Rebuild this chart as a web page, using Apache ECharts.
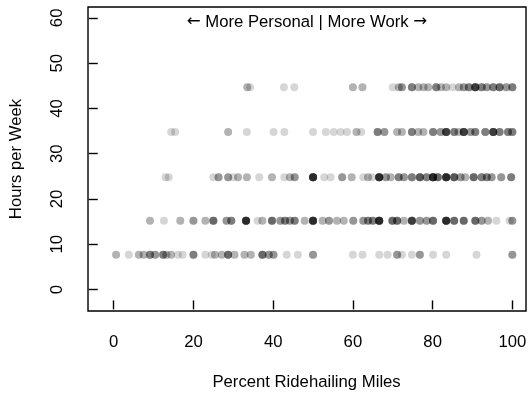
<!DOCTYPE html>
<html>
<head>
<meta charset="utf-8">
<script src="https://cdn.jsdelivr.net/npm/echarts@6/dist/echarts.min.js"></script>
<style>html,body{margin:0;padding:0;background:#fff}#c{width:529px;height:396px}</style>
</head>
<body>
<div id="c"></div>
<script>
// Hours-per-week levels (y) and, per level, [percent ridehailing miles, number of overlapping points]
const yLevels = [7.7, 15.2, 24.8, 34.8, 44.7];
const row1 = [[0.6,2],[3.8,1],[6.3,2],[7.5,2],[9.1,4],[10.4,3],[12.4,4],[13.2,2],[14.4,2],[16.1,1],[17.3,1],[20,4],[23,1],[24.6,1],[25.4,2],[27.1,2],[28.7,5],[30.3,2],[32.8,2],[34.4,2],[37.3,5],[38.9,3],[40.1,3],[43.4,1],[46.2,1],[50,3],[60,1],[62.4,1],[66.6,1],[68.7,1],[71.1,3],[72.3,1],[74.8,1],[76.8,3],[80.1,1],[83.4,1],[91,1],[100,3]];
const row2 = [[9.1,2],[12.6,1],[16.7,2],[20,3],[23,2],[25,5],[28.3,3],[29.5,4],[33.2,10],[36.1,1],[37.3,2],[39.7,5],[41.8,3],[43,4],[44.2,3],[45.4,4],[47.9,2],[50,10],[52.4,2],[54,3],[56,2],[57.7,2],[60.1,3],[62.6,3],[63.8,4],[65,4],[66.6,10],[69.9,5],[71.1,5],[72.8,2],[74.8,8],[76.8,3],[78.5,3],[80.1,5],[83.4,10],[85.4,5],[87.8,5],[90.7,5],[92.3,3],[93.9,2],[96,1],[99.3,1],[100,3]];
const row3 = [[13,1],[13.8,1],[25,1],[26.3,3],[28.7,3],[30,1],[31.2,2],[33.4,2],[36.5,1],[39.7,2],[42.8,1],[44.2,2],[45.4,3],[50,10],[52.8,1],[54.4,1],[57.3,3],[59.7,2],[62.6,1],[63.8,2],[64.8,1],[66.6,10],[68.3,3],[69.5,2],[71.5,4],[72.8,3],[74.8,4],[76.8,6],[78.5,4],[80.1,10],[81.3,5],[83.4,10],[85.4,6],[87,3],[88.2,2],[90.3,5],[92.3,4],[93.6,4],[94.8,3],[97.2,3],[99.7,4]];
const row4 = [[14.4,1],[15.4,1],[28.7,2],[33.4,1],[40.1,1],[42.8,1],[50,1],[53.2,1],[55.2,1],[56.9,1],[58.5,1],[60.9,2],[62.1,1],[66.2,4],[67.9,3],[71.1,2],[72.3,2],[74.8,4],[76.4,2],[77.7,2],[80.1,4],[82,3],[83.4,8],[85.4,4],[86.5,2],[87.8,8],[89.5,3],[90.7,4],[93.2,4],[95.2,8],[96.8,4],[98.9,4],[100,4]];
const row5 = [[33.5,2],[34.2,1],[42.7,1],[45.3,1],[60,2],[62.4,2],[70,1],[71.5,2],[72.3,3],[74.8,4],[76.4,2],[77.7,2],[78.9,2],[80.9,4],[82.1,2],[83.4,2],[85,1],[86.6,2],[87.8,3],[89.1,4],[90.7,8],[92.3,4],[93.6,3],[95.2,4],[96.8,5],[98.5,3],[100,4]];
const xTicks = [0, 20, 40, 60, 80, 100];
const yTicks = [0, 10, 20, 30, 40, 50, 60];

// plot-box value ranges (as in R: data range padded by 4%)
const BOX_X = [-4, 103.2], BOX_Y = [-2.4, 62.4];
// Box pixel geometry and an outer drawing area that also holds the outward ticks
const BOX = {left: 88, right: 3, top: 7, bottom: 85};
const OUT = {left: 78, right: 3, top: 7, bottom: 74};
const W = 529, H = 396;
const pxPerX = (W - BOX.left - BOX.right) / (BOX_X[1] - BOX_X[0]);
const pxPerY = (H - BOX.top - BOX.bottom) / (BOX_Y[1] - BOX_Y[0]);
const OUT_X = [BOX_X[0] - (BOX.left - OUT.left) / pxPerX, BOX_X[1]];
const OUT_Y = [BOX_Y[0] - (BOX.bottom - OUT.bottom) / pxPerY, BOX_Y[1]];

const rows = [row1, row2, row3, row4, row5];
const points = [];
rows.forEach((r, i) => {
  r.forEach(([x, n]) => { for (let k = 0; k < n; k++) points.push([x, yLevels[i]]); });
});

const FONT = 'Liberation Sans, Arial, Helvetica, sans-serif';
const chart = echarts.init(document.getElementById('c'), null, {renderer: 'canvas'});
chart.setOption({
  animation: false,
  backgroundColor: '#fff',
  grid: [
    Object.assign({show: false}, OUT),
    Object.assign({show: true, borderColor: '#000', borderWidth: 1.4, backgroundColor: 'transparent'}, BOX)
  ],
  xAxis: [{
    gridIndex: 0, type: 'value', min: OUT_X[0], max: OUT_X[1],
    name: 'Percent Ridehailing Miles', nameLocation: 'middle', nameGap: 63,
    nameTextStyle: {fontFamily: FONT, fontSize: 16.7, color: '#000'},
    axisLine: {show: false, onZero: true, onZeroAxisIndex: 1},
    axisTick: {show: true, customValues: xTicks, length: 9, lineStyle: {color: '#000', width: 1.4}},
    axisLabel: {customValues: xTicks, margin: 23, fontFamily: FONT, fontSize: 16.7, color: '#000'},
    splitLine: {show: false}
  }, {
    // helper axis: its zero sits on the left edge of the plot box
    gridIndex: 0, type: 'value', show: false,
    min: OUT_X[0] - BOX_X[0], max: OUT_X[1] - BOX_X[0]
  }, {
    gridIndex: 1, type: 'value', show: false, min: BOX_X[0], max: BOX_X[1]
  }],
  yAxis: [{
    gridIndex: 0, type: 'value', min: OUT_Y[0], max: OUT_Y[1],
    name: 'Hours per Week', nameLocation: 'middle', nameGap: 63,
    nameTextStyle: {fontFamily: FONT, fontSize: 16.7, color: '#000'},
    axisLine: {show: false, onZero: true, onZeroAxisIndex: 1},
    axisTick: {show: true, customValues: yTicks, length: 9, lineStyle: {color: '#000', width: 1.4}},
    axisLabel: {customValues: yTicks, rotate: 90, margin: 22, fontFamily: FONT, fontSize: 16.7, color: '#000'},
    splitLine: {show: false}
  }, {
    // helper axis: its zero sits on the bottom edge of the plot box
    gridIndex: 0, type: 'value', show: false,
    min: OUT_Y[0] - BOX_Y[0], max: OUT_Y[1] - BOX_Y[0]
  }, {
    gridIndex: 1, type: 'value', show: false, min: BOX_Y[0], max: BOX_Y[1]
  }],
  graphic: [{
    type: 'text', x: 307, y: 22, silent: true,
    style: {
      text: '{a|\u2190} More Personal | More Work {a|\u2192}',
      font: '16.7px ' + FONT, fill: '#000', textAlign: 'center', textVerticalAlign: 'middle',
      rich: {a: {fontFamily: 'DejaVu Sans', fontSize: 16.7, fill: '#000'}}
    }
  }],
  series: [{
    type: 'scatter', xAxisIndex: 0, yAxisIndex: 0, data: points,
    symbol: 'circle', symbolSize: 8, silent: true,
    itemStyle: {color: 'rgba(0,0,0,0.2)', borderWidth: 0},
    large: false, progressive: 0
  }]
});
</script>
</body>
</html>
